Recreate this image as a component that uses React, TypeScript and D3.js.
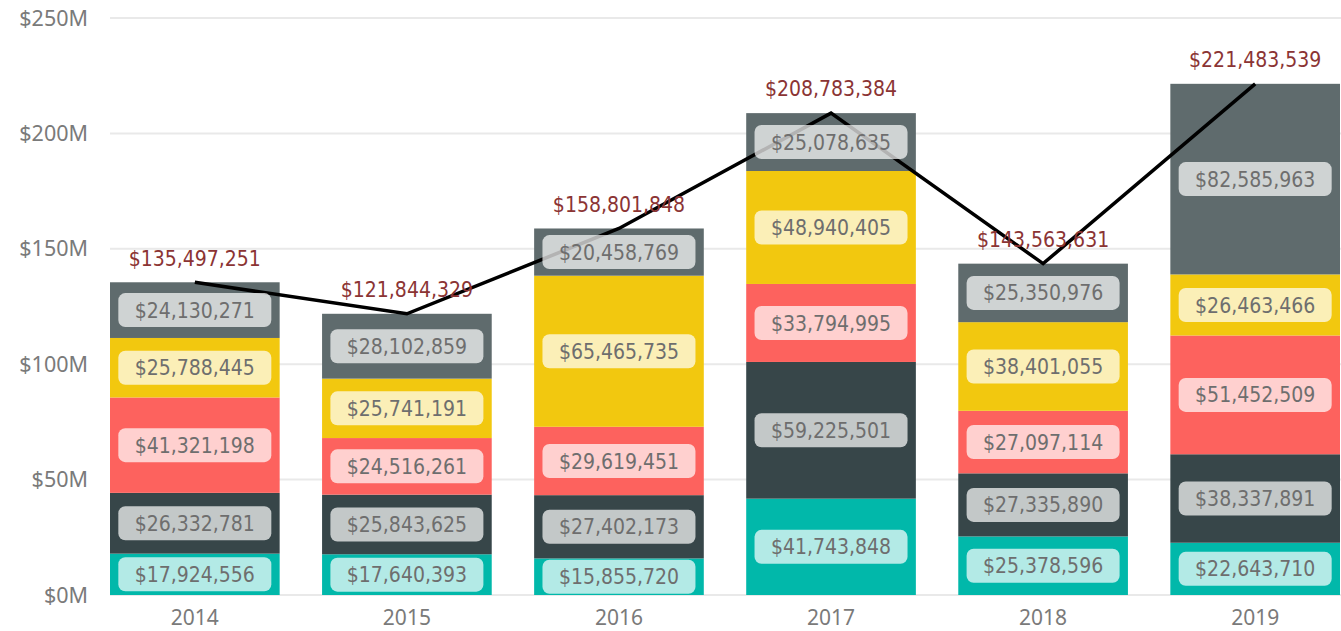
import React from "react";
import * as d3 from "d3";

const years = ["2014", "2015", "2016", "2017", "2018", "2019"];
const seriesNames = ["A", "B", "C", "D", "E"];
const seriesA = [17924556, 17640393, 15855720, 41743848, 25378596, 22643710];
const seriesB = [26332781, 25843625, 27402173, 59225501, 27335890, 38337891];
const seriesC = [41321198, 24516261, 29619451, 33794995, 27097114, 51452509];
const seriesD = [25788445, 25741191, 65465735, 48940405, 38401055, 26463466];
const seriesE = [24130271, 28102859, 20458769, 25078635, 25350976, 82585963];
const totals = [135497251, 121844329, 158801848, 208783384, 143563631, 221483539];
const yTicks = [0, 50e6, 100e6, 150e6, 200e6, 250e6];
const colors = ["#01B8AA", "#374649", "#FD625E", "#F2C80F", "#5F6B6D"];

const W = 1341;
const H = 631;

export default function App() {
  const x = d3.scaleBand<string>().domain(years).range([110, 1340]).paddingInner(0.2).paddingOuter(0);
  const y = d3.scaleLinear().domain([0, 250e6]).range([595, 18]);
  const allSeries = [seriesA, seriesB, seriesC, seriesD, seriesE];
  const rows = years.map((yr, i) => {
    const r: any = { year: yr };
    seriesNames.forEach((s, k) => (r[s] = allSeries[k][i]));
    return r;
  });
  const stacked = d3.stack<any>().keys(seriesNames)(rows);
  const fmt = (v: number) => "$" + d3.format(",")(v);
  const line = d3
    .line<number>()
    .x((_, i) => (x(years[i]) as number) + x.bandwidth() / 2)
    .y((d) => y(d));
  const bw = x.bandwidth();
  const labelFont = "'DejaVu Sans Condensed', 'DejaVu Sans', sans-serif";
  const axisFont = "'Noto Sans', 'Open Sans', sans-serif";

  return (
    <svg width={W} height={H} style={{ position: "absolute", left: 0, top: 0, background: "#fff" }}>
      {yTicks.map((t) => (
        <g key={t}>
          <line x1={110} x2={W} y1={y(t)} y2={y(t)} stroke="#e9e9e9" strokeWidth={2} />
          <text x={88} y={y(t)} dy="0.35em" textAnchor="end" fontFamily={axisFont} fontSize={21.5} fill="#7a7a7a">
            {"$" + t / 1e6 + "M"}
          </text>
        </g>
      ))}
      {stacked.map((layer, k) => (
        <g key={layer.key}>
          {layer.map((d, i) => (
            <rect
              key={i}
              x={x(years[i])}
              width={bw}
              y={y(d[1])}
              height={y(d[0]) - y(d[1])}
              fill={colors[k]}
            />
          ))}
        </g>
      ))}
      <path d={line(totals) || ""} fill="none" stroke="#000" strokeWidth={3.5} />
      {stacked.map((layer, k) => (
        <g key={"l" + layer.key}>
          {layer.map((d, i) => {
            const cx = (x(years[i]) as number) + bw / 2;
            const cy = (y(d[0]) + y(d[1])) / 2;
            return (
              <g key={i}>
                <rect x={cx - 76.5} y={cy - 17} width={153} height={34} rx={7} fill="#fff" fillOpacity={0.7} />
                <text
                  x={cx}
                  y={cy}
                  dy="0.36em"
                  textAnchor="middle"
                  fontFamily={labelFont}
                  fontSize={21}
                  fill="#6e6e6e"
                >
                  {fmt(d[1] - d[0])}
                </text>
              </g>
            );
          })}
        </g>
      ))}
      {totals.map((t, i) => (
        <text
          key={i}
          x={(x(years[i]) as number) + bw / 2}
          y={y(t) - 24}
          dy="0.35em"
          textAnchor="middle"
          fontFamily={labelFont}
          fontSize={21}
          fill="#8B3434"
        >
          {fmt(t)}
        </text>
      ))}
      {years.map((yr) => (
        <text
          key={yr}
          x={(x(yr) as number) + bw / 2}
          y={618}
          dy="0.35em"
          textAnchor="middle"
          fontFamily={axisFont}
          fontSize={21}
          fill="#7a7a7a"
        >
          {yr}
        </text>
      ))}
    </svg>
  );
}
